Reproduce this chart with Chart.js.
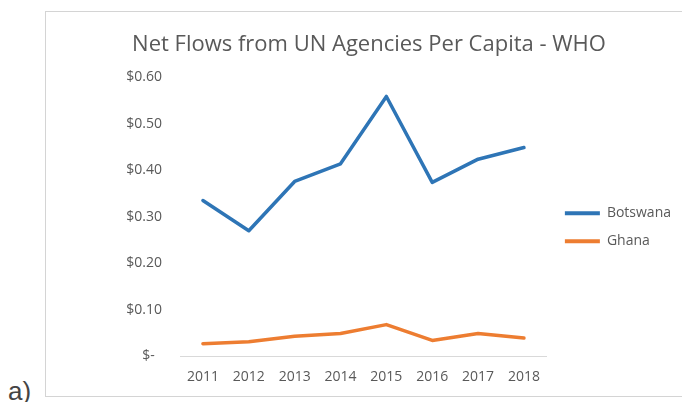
<!DOCTYPE html>
<html>
<head>
<meta charset="utf-8">
<script src="https://cdn.jsdelivr.net/npm/chart.js@4/dist/chart.umd.min.js"></script>
<style>
  html, body { margin: 0; padding: 0; width: 682px; height: 402px; overflow: hidden; background: #fff; }
  #frame { position: absolute; left: 45px; top: 11px; width: 760px; height: 386px; border: 1px solid #d4d4d4; box-sizing: border-box; }
  #chart { position: absolute; left: 45px; top: 0; }
  #tag { position: absolute; left: 8px; top: 378px; font: 26px/1 "Liberation Sans", Arial, sans-serif; color: #444; }
</style>
</head>
<body>
<div id="frame"></div>
<canvas id="chart" width="648" height="402"></canvas>
<div id="tag">a)</div>
<script>
// values
const years = ["2011", "2012", "2013", "2014", "2015", "2016", "2017", "2018"];
const botswana = [0.335, 0.270, 0.376, 0.414, 0.559, 0.374, 0.424, 0.449];
const ghana = [0.027, 0.031, 0.043, 0.049, 0.068, 0.034, 0.049, 0.039];
const yMin = 0, yMax = 0.6, yStep = 0.1;

const gray = "#595959";
const font = "'Open Sans', sans-serif";

const money = v => (Math.abs(v) < 1e-9 ? "$-  " : "$" + v.toFixed(2));

// small gap between plot and legend, like the Excel original
const legendGap = {
  id: "legendGap",
  afterLayout(chart) { chart.legend.left += 4; chart.legend.right += 4; }
};

new Chart(document.getElementById("chart"), {
  type: "line",
  data: {
    labels: years,
    datasets: [
      { label: "Botswana", data: botswana, borderColor: "#2e75b6", backgroundColor: "#2e75b6" },
      { label: "Ghana", data: ghana, borderColor: "#ed7d31", backgroundColor: "#ed7d31" }
    ]
  },
  options: {
    responsive: false,
    animation: false,
    layout: { padding: { left: 16, right: 16, top: 0, bottom: 5 } },
    elements: {
      line: { borderWidth: 3.5, tension: 0, borderJoinStyle: "round", borderCapStyle: "round" },
      point: { radius: 0, hoverRadius: 0 }
    },
    scales: {
      x: {
        offset: true,
        grid: { display: false, drawTicks: false },
        border: { display: true, color: "#d9d9d9", width: 1 },
        ticks: { color: gray, font: { family: font, size: 14 }, padding: 12 }
      },
      y: {
        min: yMin, max: yMax,
        grid: { display: false, drawTicks: false },
        border: { display: false },
        ticks: { stepSize: yStep, color: gray, font: { family: font, size: 14 }, padding: 18, callback: v => money(v) },
        afterFit: s => { s.width = 119; }
      }
    },
    plugins: {
      title: {
        display: true,
        text: "Net Flows from UN Agencies Per Capita - WHO",
        color: gray,
        font: { family: font, size: 22, weight: "normal" },
        padding: { top: 32, bottom: 19 }
      },
      legend: {
        position: "right",
        fullSize: false,
        title: { display: true, text: " ", font: { size: 14 }, padding: { top: 2, bottom: 2 } },
        labels: {
          color: gray,
          font: { family: font, size: 14 },
          boxWidth: 35,
          boxHeight: 4,
          padding: 14,
          generateLabels: chart => chart.data.datasets.map((ds, i) => ({
            text: ds.label,
            fillStyle: ds.borderColor,
            strokeStyle: ds.borderColor,
            lineWidth: 0,
            fontColor: gray,
            datasetIndex: i
          }))
        }
      },
      tooltip: { enabled: false }
    }
  },
  plugins: [legendGap]
});
</script>
</body>
</html>
